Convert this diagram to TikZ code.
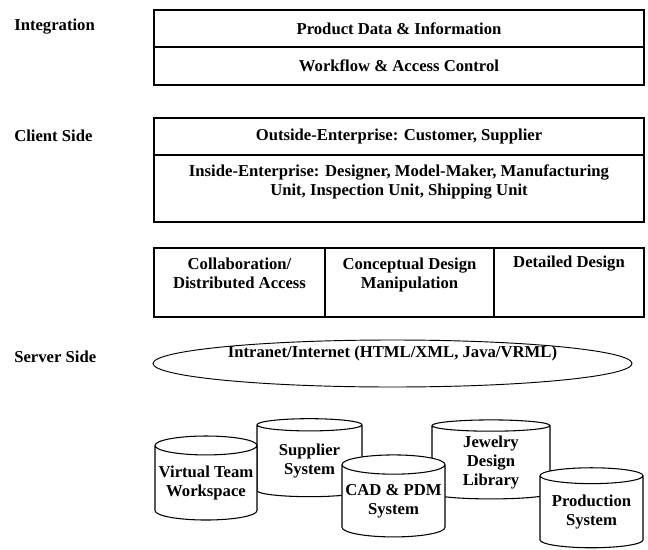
\documentclass[tikz,border=0pt]{standalone}
\usepackage{fontspec}
\setmainfont{Liberation Serif}
\usetikzlibrary{positioning,shapes.geometric}
\begin{document}
\begin{tikzpicture}[x=0.75pt,y=-0.75pt,
  every node/.style={font=\bfseries\fontsize{12.5}{14.5}\selectfont},
  side/.style={anchor=west,inner sep=0pt},
  layer/.style={draw,line width=0.9pt,anchor=north west,inner sep=0pt,outer sep=0pt,minimum width=367.5pt},
  cell/.style={draw,line width=0.9pt,anchor=north west,inner sep=0pt,outer sep=0pt,minimum height=51.75pt},
  txt/.style={align=center,inner sep=0pt},
  db/.style={cylinder,shape border rotate=90,draw,line width=0.8pt,fill=white,
    aspect=0.2,inner sep=0pt,align=center}]
\useasboundingbox (0,0) rectangle (648,549);
% left hand labels
\node[side] (integ) at (14,27) {Integration};
\node[side] (client) at (14,136) {Client Side};
\node[side] (server) at (14,357) {Server Side};
% integration layer
\node[layer,minimum height=27.75pt] (prod) at (154,10) {Product Data \& Information};
\node[layer,minimum height=28.5pt] (flow) at (prod.south west) {Workflow \& Access Control};
\draw[line width=2pt] (prod.south west) -- (prod.south east);
% client side
\node[layer,minimum height=27.75pt] (outside) at (154,118) {Outside-Enterprise: Customer, Supplier};
\node[layer,minimum height=50.25pt] (inside) at (outside.south west) {};
\draw[line width=2pt] (outside.south west) -- (outside.south east);
\node[txt,below=7pt of inside.north] (insidetxt) {Inside-Enterprise: Designer, Model-Maker, Manufacturing\\Unit, Inspection Unit, Shipping Unit};
% design tasks
\node[cell,minimum width=128.25pt] (collab) at (154,248) {};
\node[cell,minimum width=126.75pt] (concept) at (collab.north east) {};
\node[cell,minimum width=112.5pt] (detail) at (concept.north east) {};
\node[txt,below=7pt of collab.north] (collabtxt) {Collaboration/\\Distributed Access};
\node[txt,below=7pt of concept.north] (concepttxt) {Conceptual Design\\Manipulation};
\node[txt,below=6pt of detail.north] (detailtxt) {Detailed Design};
% server side
\node[draw,ellipse,line width=0.7pt,minimum width=359.25pt,minimum height=35.25pt] (net) at (392.5,363.5) {};
\node[txt] (nettxt) at (392.5,353) {Intranet/Internet (HTML/XML, Java/VRML)};
\node[db,minimum width=78.75pt,minimum height=58.5pt] (supplier) at (309.5,461) {Supplier\\System};
\node[db,minimum width=88.5pt,minimum height=59.25pt] (jewel) at (491,462.5) {Jewelry\\Design\\Library};
\node[db,minimum width=76.5pt,minimum height=63pt] (vtw) at (206,483) {Virtual Team\\Workspace};
\node[db,minimum width=77.25pt,minimum height=61.5pt] (cad) at (393.5,501) {CAD \& PDM\\System};
\node[db,minimum width=77.25pt,minimum height=60pt] (produce) at (591.5,512) {Production\\System};
\end{tikzpicture}
\end{document}
